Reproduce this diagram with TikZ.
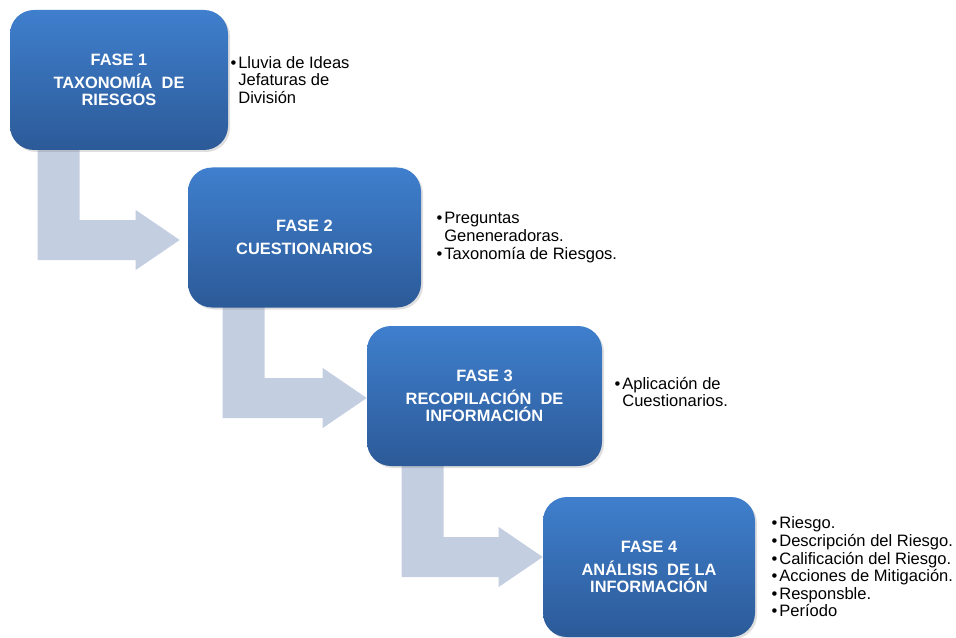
\documentclass[tikz,border=0pt]{standalone}
\usepackage{fontspec}
\setmainfont{Liberation Sans}
\usepackage{xcolor}
\usepackage{tikz}
\usetikzlibrary{positioning,calc,shadows,backgrounds}

\definecolor{fasetop}{HTML}{3F7FCD}
\definecolor{fasebot}{HTML}{2C5A98}
\definecolor{flechagris}{HTML}{C4CEE1}

\tikzset{
  fase/.style={rectangle, rounded corners=18pt, minimum height=105pt,
    top color=fasetop, bottom color=fasebot, draw=none, text=white,
    align=center, inner sep=2pt,
    font=\fontsize{12.3}{12.8}\selectfont\bfseries,
    drop shadow={shadow xshift=1.5pt, shadow yshift=-1.5pt, opacity=0.25}},
  lista/.style={align=left, inner sep=0pt, font=\fontsize{12.4}{13.2}\selectfont},
  flecha/.style={fill=flechagris, draw=none}
}
\newcommand{\punto}{•\kern1.5pt}
\newcommand{\blanco}{\hphantom{\punto}}

\begin{document}
\begin{tikzpicture}[x=0.75pt, y=-0.75pt]
    \useasboundingbox (0,0) rectangle (956,638);
    % fases
    \node[fase, minimum width=163.5pt] (b1) at (119,80) {FASE 1\\[4pt] TAXONOMÍA~ DE\\ RIESGOS};
    \node[fase, minimum width=174.75pt] (b2) at (304.5,237.5) {FASE 2\\[4pt] CUESTIONARIOS};
    \node[fase, minimum width=176.25pt] (b3) at (484.5,396) {FASE 3\\[4pt] RECOPILACIÓN~ DE\\ INFORMACIÓN};
    \node[fase, minimum width=159pt] (b4) at (649,567) {FASE 4\\[4pt] ANÁLISIS~ DE LA\\ INFORMACIÓN};
    % listas
    \node[lista, right=1.5pt of b1] (t1) {\punto Lluvia de Ideas\\ \blanco Jefaturas de\\ \blanco División};
    \node[lista, right=11.25pt of b2] (t2) {\punto Preguntas\\ \blanco Geneneradoras.\\ \punto Taxonomía de Riesgos.};
    \node[lista, right=9pt of b3, yshift=3pt] (t3) {\punto Aplicación de\\ \blanco Cuestionarios.};
    \node[lista, right=12pt of b4] (t4) {\punto Riesgo.\\ \punto Descripción del Riesgo.\\ \punto Calificación del Riesgo.\\
      \punto Acciones de Mitigación.\\ \punto Responsble.\\ \punto Período};
    % flechas
    \begin{scope}[on background layer]
    \foreach \s/\t/\l/\d/\g in {b1/b2/28/2.5/-8, b2/b3/35/2/0, b3/b4/35/-10/0} {
        \coordinate (p) at ($(\s.south west)+(\l,-10)$);
        \coordinate (q) at ($(\t.west)+(\g,\d)$);
        \fill[flecha] (p) -- ++(42,0) |- ($(q)+(-44,-20)$) -- ++(0,-10) -- (q)
            -- ++(-44,30) -- ++(0,-10) -| (p) -- cycle;
    }
    \end{scope}
\end{tikzpicture}
\end{document}
